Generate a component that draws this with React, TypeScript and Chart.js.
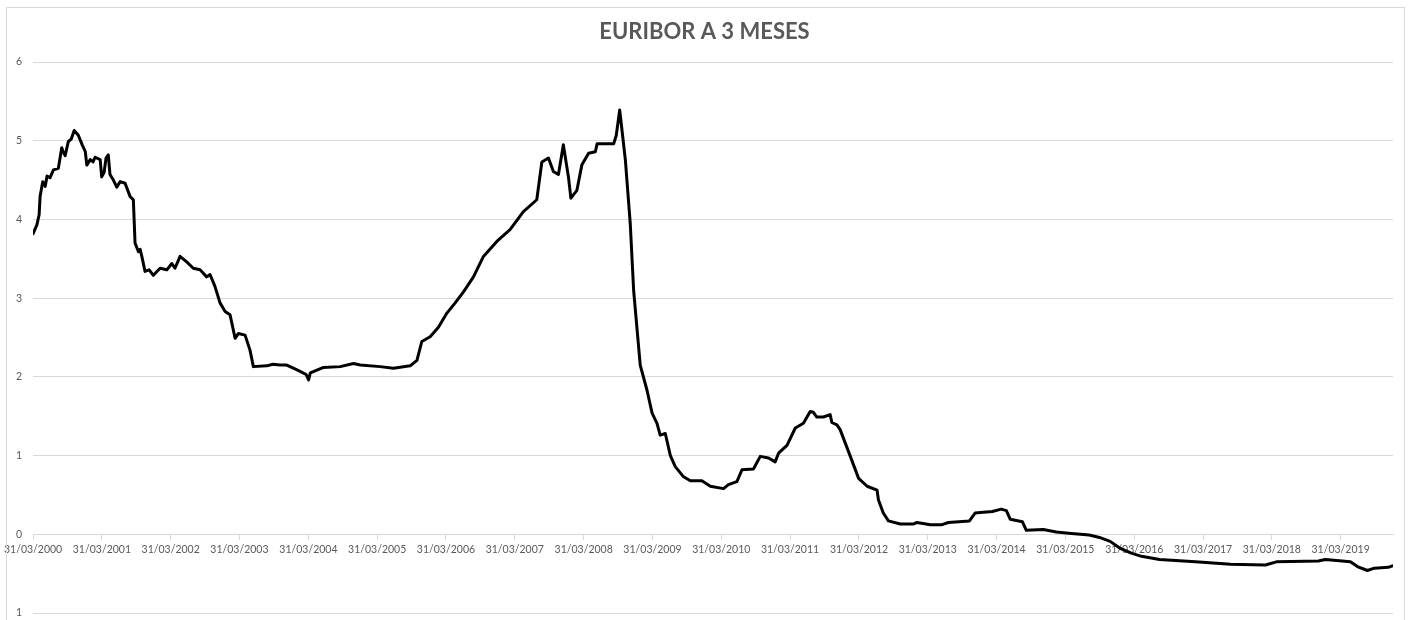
import { useEffect, useRef } from "react";
import { Chart, registerables } from "chart.js";

Chart.register(...registerables);

const chartTitle = "EURIBOR A 3 MESES";

// Fecha de cada observación (ISO) y valor del Euribor a 3 meses (%)
const dates: string[] = [
  "2000-03-31", "2000-04-20", "2000-05-02", "2000-05-07", "2000-05-21", "2000-06-03", "2000-06-13", "2000-06-29",
  "2000-07-17", "2000-08-12", "2000-08-30", "2000-09-06", "2000-09-17", "2000-10-04", "2000-10-19", "2000-11-04",
  "2000-11-26", "2000-12-16", "2001-01-02", "2001-01-10", "2001-01-28", "2001-02-12", "2001-02-23", "2001-03-22",
  "2001-03-30", "2001-04-12", "2001-04-22", "2001-05-04", "2001-05-13", "2001-05-31", "2001-06-18", "2001-07-06",
  "2001-08-01", "2001-08-28", "2001-09-14", "2001-09-23", "2001-10-11", "2001-10-20", "2001-10-29", "2001-11-15",
  "2001-12-07", "2001-12-29", "2002-02-03", "2002-03-11", "2002-04-06", "2002-04-23", "2002-05-20", "2002-06-24",
  "2002-07-29", "2002-09-03", "2002-10-08", "2002-10-26", "2002-11-21", "2002-12-18", "2003-01-14", "2003-02-09",
  "2003-03-08", "2003-03-25", "2003-04-30", "2003-05-26", "2003-06-13", "2003-08-23", "2003-09-25", "2003-11-01",
  "2003-12-07", "2004-01-11", "2004-02-16", "2004-03-19", "2004-04-01", "2004-04-10", "2004-06-19", "2004-09-16",
  "2004-11-25", "2004-12-31", "2005-04-16", "2005-06-25", "2005-09-22", "2005-10-28", "2005-11-23", "2006-01-06",
  "2006-02-19", "2006-04-05", "2006-05-19", "2006-07-02", "2006-08-24", "2006-10-16", "2006-12-26", "2007-03-06",
  "2007-05-16", "2007-07-26", "2007-08-22", "2007-09-26", "2007-10-22", "2007-11-18", "2007-12-14", "2008-01-10",
  "2008-01-23", "2008-02-24", "2008-03-21", "2008-04-26", "2008-06-01", "2008-06-10", "2008-09-06", "2008-09-20",
  "2008-10-08", "2008-11-07", "2008-12-03", "2008-12-21", "2009-01-25", "2009-03-02", "2009-03-29", "2009-04-24",
  "2009-05-11", "2009-06-07", "2009-07-04", "2009-07-30", "2009-09-12", "2009-10-18", "2009-12-18", "2010-02-01",
  "2010-04-12", "2010-05-08", "2010-06-22", "2010-07-19", "2010-09-18", "2010-10-24", "2010-12-07", "2011-01-11",
  "2011-01-29", "2011-03-15", "2011-04-28", "2011-06-10", "2011-07-16", "2011-08-02", "2011-08-20", "2011-09-24",
  "2011-10-30", "2011-11-08", "2011-12-05", "2011-12-22", "2012-02-14", "2012-03-29", "2012-05-13", "2012-07-05",
  "2012-07-12", "2012-08-07", "2012-09-03", "2012-11-05", "2013-01-13", "2013-02-02", "2013-04-14", "2013-06-11",
  "2013-07-18", "2013-11-07", "2013-12-07", "2014-01-20", "2014-03-09", "2014-04-25", "2014-05-22", "2014-06-12",
  "2014-08-15", "2014-09-05", "2014-12-04", "2015-02-11", "2015-05-02", "2015-08-05", "2015-09-28", "2015-11-24",
  "2016-01-17", "2016-03-15", "2016-05-08", "2016-08-12", "2017-02-19", "2017-08-23", "2018-02-25", "2018-04-24",
  "2018-12-03", "2019-01-09", "2019-05-22", "2019-06-28", "2019-08-20", "2019-09-26", "2019-12-09", "2020-01-03",
];

const rates: number[] = [
  3.82, 3.93, 4.06, 4.29, 4.48, 4.42, 4.55, 4.53,
  4.63, 4.65, 4.91, 4.86, 4.81, 4.99, 5.02, 5.13,
  5.07, 4.95, 4.86, 4.69, 4.76, 4.73, 4.79, 4.76,
  4.54, 4.6, 4.78, 4.82, 4.57, 4.5, 4.41, 4.48,
  4.46, 4.29, 4.25, 3.7, 3.59, 3.62, 3.53, 3.34,
  3.36, 3.29, 3.38, 3.36, 3.44, 3.38, 3.53, 3.46,
  3.38, 3.36, 3.27, 3.3, 3.15, 2.94, 2.83, 2.79,
  2.49, 2.55, 2.53, 2.34, 2.13, 2.14, 2.16, 2.15,
  2.15, 2.11, 2.07, 2.03, 1.96, 2.05, 2.12, 2.13,
  2.17, 2.15, 2.13, 2.11, 2.14, 2.21, 2.45, 2.51,
  2.63, 2.81, 2.94, 3.08, 3.27, 3.53, 3.72, 3.87,
  4.1, 4.25, 4.73, 4.78, 4.61, 4.57, 4.95, 4.54,
  4.27, 4.37, 4.69, 4.84, 4.86, 4.96, 4.96, 5.07,
  5.39, 4.76, 3.95, 3.1, 2.15, 1.83, 1.54, 1.41,
  1.26, 1.28, 1.0, 0.86, 0.73, 0.68, 0.68, 0.61,
  0.58, 0.63, 0.67, 0.82, 0.83, 0.99, 0.97, 0.92,
  1.03, 1.13, 1.35, 1.41, 1.56, 1.55, 1.49, 1.49,
  1.52, 1.42, 1.39, 1.33, 0.99, 0.71, 0.61, 0.56,
  0.44, 0.27, 0.17, 0.13, 0.13, 0.15, 0.12, 0.12,
  0.15, 0.17, 0.27, 0.28, 0.29, 0.32, 0.3, 0.19,
  0.16, 0.05, 0.06, 0.03, 0.01, -0.01, -0.04, -0.09,
  -0.18, -0.24, -0.28, -0.32, -0.35, -0.38, -0.39, -0.35,
  -0.34, -0.32, -0.35, -0.41, -0.46, -0.43, -0.42, -0.4,
];

// Etiquetas del eje horizontal
const xTickLabels: string[] = [
  "31/03/2000", "31/03/2001", "31/03/2002", "31/03/2003", "31/03/2004",
  "31/03/2005", "31/03/2006", "31/03/2007", "31/03/2008", "31/03/2009",
  "31/03/2010", "31/03/2011", "31/03/2012", "31/03/2013", "31/03/2014",
  "31/03/2015", "31/03/2016", "31/03/2017", "31/03/2018", "31/03/2019",
];

const yMin = -1;
const yMax = 6;
const yStep = 1;

const DAY_MS = 86400000;
const ORIGIN = Date.UTC(2000, 2, 31);

function isoToDay(iso: string): number {
  const [y, m, d] = iso.split("-").map(Number);
  return (Date.UTC(y, m - 1, d) - ORIGIN) / DAY_MS;
}

function dmyToDay(dmy: string): number {
  const [d, m, y] = dmy.split("/").map(Number);
  return (Date.UTC(y, m - 1, d) - ORIGIN) / DAY_MS;
}

export default function App() {
  const canvasRef = useRef<HTMLCanvasElement | null>(null);

  useEffect(() => {
    if (!canvasRef.current) return;
    Chart.defaults.font.family = "Lato, 'Open Sans', sans-serif";
    const points = dates.map((d, i) => ({ x: isoToDay(d), y: rates[i] }));
    const chart = new Chart(canvasRef.current, {
      type: "line",
      data: {
        datasets: [
          {
            label: chartTitle,
            data: points,
            borderColor: "#000000",
            backgroundColor: "#000000",
            borderWidth: 3,
            pointRadius: 0,
            tension: 0,
            fill: false,
            borderJoinStyle: "round",
            borderCapStyle: "round",
          },
        ],
      },
      options: {
        responsive: false,
        animation: false,
        layout: { padding: { left: 16, right: 20, top: 0, bottom: 7 } },
        plugins: {
          legend: { display: false },
          tooltip: { enabled: false },
          title: {
            display: true,
            text: chartTitle,
            color: "#595959",
            font: { family: "Lato", size: 22, weight: "bold" },
            padding: { top: 19, bottom: 16.6 },
          },
        },
        scales: {
          x: {
            type: "linear",
            position: { y: 0 } as any,
            min: 0,
            max: isoToDay(dates[dates.length - 1]),
            afterBuildTicks: (scale: any) => {
              scale.ticks = xTickLabels.map((l) => ({ value: dmyToDay(l) }));
            },
            grid: {
              display: true,
              drawOnChartArea: false,
              drawTicks: true,
              tickLength: 5,
              color: "#d9d9d9",
            },
            border: { display: true, color: "#d9d9d9", width: 1 },
            ticks: {
              autoSkip: false,
              maxRotation: 0,
              minRotation: 0,
              padding: 4,
              color: "#595959",
              font: { size: 10.5 },
              callback: (_v: any, i: number) => xTickLabels[i],
            },
          },
          y: {
            type: "linear",
            min: yMin,
            max: yMax,
            afterFit: (scale: any) => {
              scale.width = 17;
              scale.paddingTop = 0;
              scale.paddingBottom = 0;
            },
            grid: { color: "#d9d9d9", drawTicks: false },
            border: { display: false },
            ticks: {
              stepSize: yStep,
              padding: 11,
              color: "#595959",
              font: { size: 10.5 },
              callback: (v: any) => (Number(v) < 0 ? "-" + Math.abs(Number(v)) : String(v)),
            },
          },
        },
      },
    });
    return () => chart.destroy();
  }, []);

  return (
    <div
      style={{
        position: "fixed",
        left: 0,
        top: 0,
        width: 1413,
        height: 620,
        background: "#ffffff",
        overflow: "hidden",
      }}
    >
      <canvas ref={canvasRef} width={1413} height={620} style={{ width: 1413, height: 620, display: "block" }} />
      <div
        style={{
          position: "absolute",
          left: 6,
          top: 7,
          width: 1399,
          height: 700,
          boxSizing: "border-box",
          border: "1px solid #d9d9d9",
          pointerEvents: "none",
        }}
      />
    </div>
  );
}
